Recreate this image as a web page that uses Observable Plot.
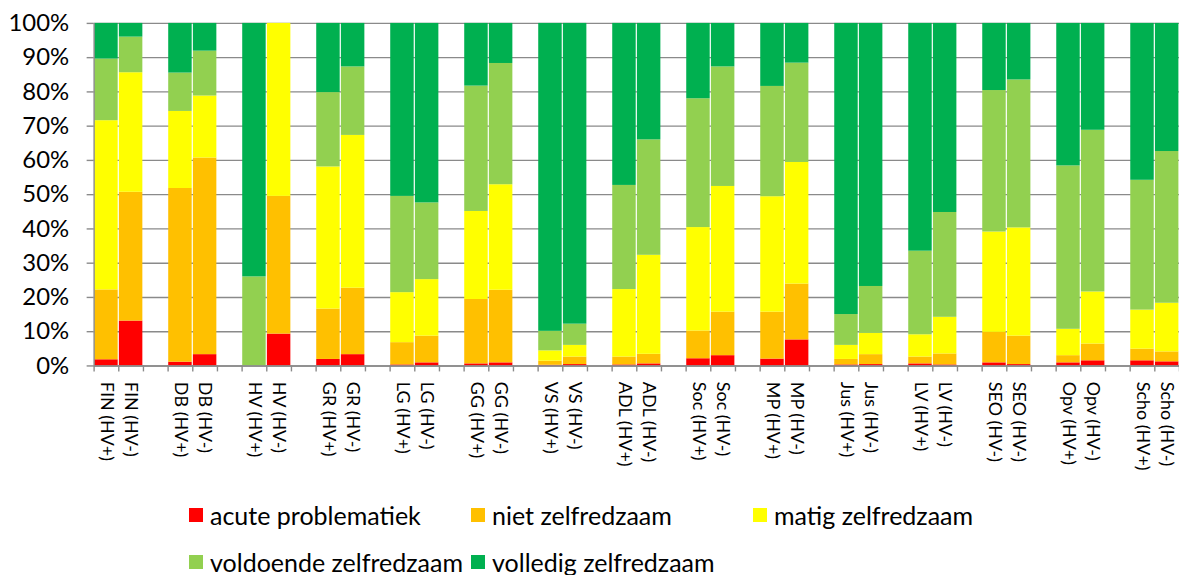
<!DOCTYPE html>
<html>
<head>
<meta charset="utf-8">
<script src="https://cdn.jsdelivr.net/npm/d3@7"></script>
<script src="https://cdn.jsdelivr.net/npm/@observablehq/plot@0.6"></script>
<style>
  html, body { margin: 0; padding: 0; background: #fff; overflow: hidden; width: 1179px; height: 575px; }
  #chart svg { display: block; }
  div.lg-swatches { margin: 0 0 0 189px !important; width: 846px; font-family: Lato, sans-serif !important; font-size: 25px !important; color: #000; min-height: 0 !important; }
  div.lg-swatches span.lg-swatch { width: 282px; height: 47px; margin: 0 !important; }
  div.lg-swatches span.lg-swatch > svg { margin-right: 7px !important; }
</style>
</head>
<body>
<div id="chart"></div>
<script>
// Categories (bars) in order; empty slot between each pair of groups
const groups = ["FIN", "DB", "HV", "GR", "LG", "GG", "VS", "ADL", "Soc", "MP", "Jus", "LV", "SEO", "Opv", "Scho"];
const categories = [
  "FIN (HV+)", "FIN (HV-)", "DB (HV+)", "DB (HV-)", "HV (HV+)", "HV (HV-)",
  "GR (HV+)", "GR (HV-)", "LG (HV+)", "LG (HV-)", "GG (HV+)", "GG (HV-)",
  "VS (HV+)", "VS (HV-)", "ADL (HV+)", "ADL (HV-)", "Soc (HV+)", "Soc (HV-)",
  "MP (HV+)", "MP (HV-)", "Jus (HV+)", "Jus (HV-)", "LV (HV+)", "LV (HV-)",
  "SEO (HV-)", "SEO (HV-)", "Opv (HV+)", "Opv (HV-)", "Scho (HV+)", "Scho (HV-)"
];

// Series (percent)
const seriesNames = ["acute problematiek", "niet zelfredzaam", "matig zelfredzaam", "voldoende zelfredzaam", "volledig zelfredzaam"];
const seriesColors = ["#FF0000", "#FFC000", "#FFFF00", "#92D050", "#00B050"];

const acute     = [1.8, 13.1, 1.1, 3.3, 0, 9.3, 1.9, 3.3, 0.3, 0.9, 0.6, 0.9, 0.2, 0.4, 0.3, 0.6, 2.1, 3.0, 2.0, 7.6, 0.3, 0.4, 0.6, 0.3, 0.9, 0.4, 0.9, 1.5, 1.5, 1.2];
const niet      = [20.4, 37.6, 50.7, 57.4, 0, 40.2, 14.7, 19.4, 6.5, 7.8, 18.8, 21.2, 1.2, 2.2, 2.3, 2.8, 8.1, 12.7, 13.7, 16.3, 1.6, 2.9, 2.0, 3.2, 8.9, 8.3, 2.1, 4.9, 3.4, 2.9];
const matig     = [49.4, 34.9, 22.5, 18.1, 0, 50.5, 41.5, 44.6, 14.6, 16.5, 25.7, 30.8, 3.0, 3.4, 19.7, 28.9, 30.2, 36.7, 33.7, 35.5, 4.1, 6.2, 6.5, 10.7, 29.3, 31.6, 7.7, 15.2, 11.4, 14.2];
const voldoende = [18.0, 10.4, 11.2, 13.1, 26.0, 0, 21.7, 20.0, 28.1, 22.4, 36.6, 35.4, 5.7, 6.2, 30.4, 33.7, 37.6, 34.9, 32.2, 29.0, 9.0, 13.7, 24.4, 30.6, 41.3, 43.2, 47.7, 47.2, 37.9, 44.3];
const volledig  = [10.4, 4.0, 14.5, 8.1, 74.0, 0, 20.2, 12.7, 50.5, 52.4, 18.3, 11.7, 89.9, 87.8, 47.3, 34.0, 22.0, 12.7, 18.4, 11.6, 85.0, 76.8, 66.5, 55.2, 19.6, 16.5, 41.6, 31.2, 45.8, 37.4];

const yTicks = [0, 10, 20, 30, 40, 50, 60, 70, 80, 90, 100];

// Build slot layout: each group = 2 bars + 1 empty slot (none after last)
const seriesValues = [acute, niet, matig, voldoende, volledig];
const slotOf = categories.map((c, i) => Math.floor(i / 2) * 3 + (i % 2));
const nSlots = (groups.length - 1) * 3 + 2;
const rows = [];
categories.forEach((c, i) => {
  seriesNames.forEach((s, k) => {
    rows.push({slot: slotOf[i], category: c, series: s, value: seriesValues[k][i]});
  });
});
const labelAt = new Map(categories.map((c, i) => [slotOf[i] + 0.5, c]));

const gray = "#8a8a8a";
const H = 494;
const plot = Plot.plot({
  width: 1184,
  height: H,
  marginLeft: 94,
  marginRight: 0,
  marginTop: 23,
  marginBottom: H - 367,
  style: {fontFamily: "Lato, sans-serif", color: "#000", background: "#fff", overflow: "visible"},
  x: {domain: [0, nSlots], axis: null, label: null},
  y: {domain: [0, 100], axis: null, label: null},
  color: {domain: seriesNames, range: seriesColors},
  marks: [
    Plot.ruleY(yTicks, {stroke: gray, strokeWidth: 1.4}),
    Plot.rectY(rows, Plot.stackY({x: "slot", interval: 1, y: "value", fill: "series", order: null, insetLeft: 0.6, insetRight: 0.6})),
    Plot.ruleX([0], {stroke: gray, strokeWidth: 1.4}),
    Plot.ruleY([0], {stroke: gray, strokeWidth: 1.4}),
    Plot.axisY({ticks: yTicks, tickFormat: d => d + "%", tickSize: 7, tickPadding: 18, fontSize: 24, stroke: gray, strokeWidth: 1.4, fill: "#000", label: null}),
    Plot.axisX({ticks: d3.range(nSlots + 1), tickSize: 6, tickFormat: () => "", stroke: gray, strokeWidth: 1.4, label: null}),
    Plot.axisX({ticks: [...labelAt.keys()], tickSize: 0, tickPadding: 16, tickRotate: 90, tickFormat: d => labelAt.get(d), fontSize: 18, fill: "#000", label: null})
  ]
});
document.getElementById("chart").appendChild(plot);

const legend = Plot.legend({color: {domain: seriesNames, range: seriesColors}, legend: "swatches", swatchSize: 14, className: "lg"});
document.getElementById("chart").appendChild(legend);
</script>
</body>
</html>
